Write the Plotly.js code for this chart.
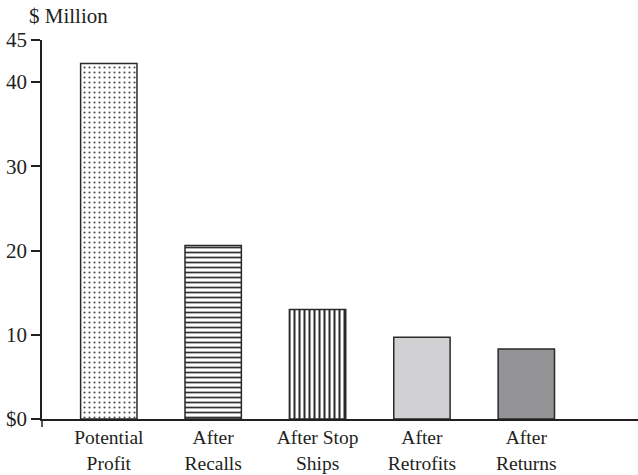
<!DOCTYPE html>
<html>
<head>
<meta charset="utf-8">
<script src="https://cdn.plot.ly/plotly-3.0.1.min.js"></script>
<style>html,body{margin:0;padding:0;background:#fff;}#chart{width:638px;height:475px;}</style>
</head>
<body>
<div id="chart"></div>
<script>
// Data
const categories = ["Potential<br>Profit", "After<br>Recalls", "After Stop<br>Ships", "After<br>Retrofits", "After<br>Returns"];
const values = [42.2, 20.6, 13.0, 9.7, 8.3];
const tickValues = [0, 10, 20, 30, 40, 45];
const tickLabels = ["$0", "10", "20", "30", "40", "45"];

// Styles
const patternShapes = [".", "-", "|", "", ""];
const fillColors = ["#ffffff", "#ffffff", "#ffffff", "#d1d1d3", "#939396"];
const patternFg = ["#4a4a4a", "#333333", "#2a2a2a", "#d1d1d3", "#939396"];
const patternSize = [5, 5, 5, 8, 8];
const patternSolidity = [0.14, 0.35, 0.4, 0.3, 0.3];

const ink = "#231f20";
const fontFamily = "Liberation Serif, Times New Roman, serif";
const font = {family: fontFamily, size: 21, color: ink};
const xFont = {family: fontFamily, size: 19.5, color: ink};

const traces = categories.map((c, i) => {
  const marker = {
    color: fillColors[i],
    line: {color: "#2a2a2a", width: 1.5}
  };
  if (patternShapes[i]) {
    marker.pattern = {
      shape: patternShapes[i],
      fgcolor: patternFg[i],
      bgcolor: fillColors[i],
      size: patternSize[i],
      solidity: patternSolidity[i]
    };
  }
  return {
    type: "bar",
    x: [c],
    y: [values[i]],
    width: 0.54,
    marker: marker,
    hoverinfo: "none"
  };
});

const layout = {
  width: 638,
  height: 475,
  margin: {l: 42, r: 0, t: 40, b: 56, pad: 0},
  paper_bgcolor: "#ffffff",
  plot_bgcolor: "#ffffff",
  font: font,
  showlegend: false,
  barmode: "overlay",
  title: {
    text: "$ Million",
    font: font,
    xref: "container", yref: "container",
    x: 29 / 638, xanchor: "left",
    y: 1 - 16 / 475, yanchor: "middle"
  },
  xaxis: {
    type: "category",
    categoryarray: categories, categoryorder: "array",
    range: [-0.64, 5.07],
    showline: true, linecolor: ink, linewidth: 1.5,
    ticks: "", showgrid: false, zeroline: false,
    tickfont: xFont,
    fixedrange: true
  },
  yaxis: {
    range: [0, 45],
    tickmode: "array",
    tickvals: tickValues,
    ticktext: tickLabels,
    ticks: "outside", ticklen: 9, tickwidth: 1.5, tickcolor: ink,
    showline: true, linecolor: ink, linewidth: 1.5,
    showgrid: false, zeroline: false,
    tickfont: font,
    fixedrange: true
  },
  shapes: [{
    type: "line", xref: "paper", yref: "paper",
    x0: 0, x1: 0, y0: 0, y1: -8 / 379,
    line: {color: ink, width: 1.5}
  }]
};

Plotly.newPlot("chart", traces, layout, {displayModeBar: false});
</script>
</body>
</html>
